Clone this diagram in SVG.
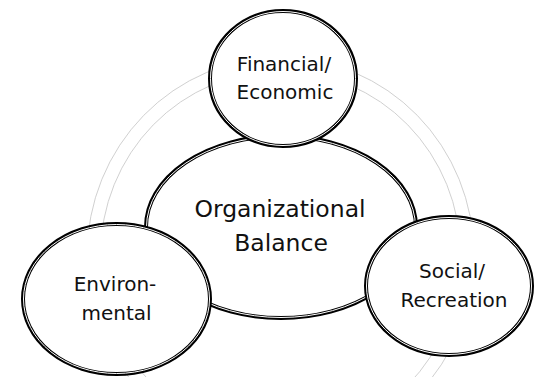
<svg xmlns="http://www.w3.org/2000/svg" width="534" height="377" viewBox="0 0 534 377">
<style>
.bg{fill:white}
.ring{fill:none;stroke:#c4c4c4;stroke-width:0.8}
.outer{fill:white;stroke:#000;stroke-width:4}
.gap{fill:none;stroke:#fff;stroke-width:1}
.t{font-family:"DejaVu Sans",Verdana,sans-serif;fill:#111;text-anchor:middle}
.s{font-size:20px}
.l{font-size:23.5px}
</style>
<rect class="bg" x="0" y="0" width="534" height="377"/>
<g id="connectors">
<ellipse class="ring" cx="280.5" cy="255" rx="193.4" ry="197.5"/>
<ellipse class="ring" cx="280.5" cy="255" rx="180" ry="184"/>
</g>
<g id="center">
<ellipse class="outer" cx="281" cy="227" rx="135" ry="91"/>
<ellipse class="gap" cx="281" cy="227" rx="134.5" ry="90.5"/>
<text class="t l" x="280" y="217">Organizational</text>
<text class="t l" x="281" y="251">Balance</text>
</g>
<g id="financial">
<ellipse class="outer" cx="283" cy="78.5" rx="73" ry="67.5"/>
<ellipse class="gap" cx="283" cy="78.5" rx="72.5" ry="67"/>
<text class="t s" x="284" y="71">Financial/</text>
<text class="t s" x="285" y="99">Economic</text>
</g>
<g id="environmental">
<ellipse class="outer" cx="116.5" cy="299" rx="93.5" ry="75"/>
<ellipse class="gap" cx="116.5" cy="299" rx="93" ry="74.5"/>
<text class="t s" x="115" y="291">Environ-</text>
<text class="t s" x="116.5" y="320">mental</text>
</g>
<g id="social">
<ellipse class="outer" cx="449" cy="286" rx="83" ry="69"/>
<ellipse class="gap" cx="449" cy="286" rx="82.5" ry="68.5"/>
<text class="t s" x="452" y="278">Social/</text>
<text class="t s" x="454" y="307">Recreation</text>
</g>
</svg>
